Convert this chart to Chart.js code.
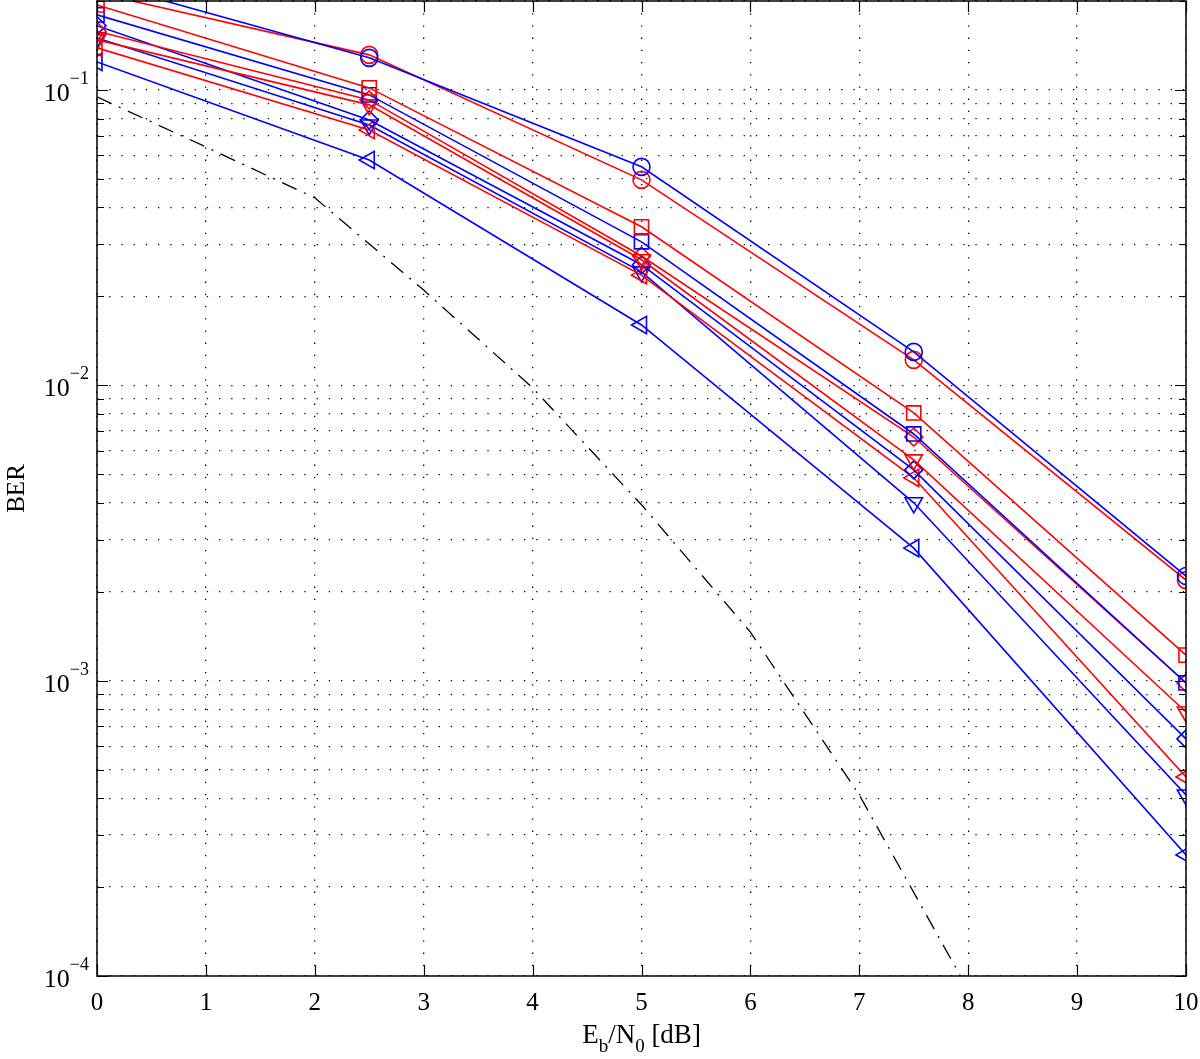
<!DOCTYPE html>
<html><head><meta charset="utf-8">
<script src="https://cdn.jsdelivr.net/npm/chart.js@4.4.1/dist/chart.umd.min.js"></script>
<style>html,body{margin:0;padding:0;background:#fff;}canvas{display:block;}</style>
</head><body>
<canvas id="c" width="1200" height="1059"></canvas>
<script>
// ---- data ----
const ebn0 = [0, 2.5, 5, 7.5, 10];
const berBlueCircle  = [0.232, 0.1284, 0.0549, 0.01297, 0.00226];
const berRedCircle   = [0.213, 0.1314, 0.0496, 0.01219, 0.00219];
const berRedSquare   = [0.194, 0.1016, 0.0344, 0.00806, 0.00122];
const berBlueSquare  = [0.1795, 0.0962, 0.0306, 0.00684, 0.000982];
const berRedDiamond  = [0.158, 0.0925, 0.0274, 0.00668, 0.000982];
const berRedDown     = [0.1477, 0.0890, 0.0266, 0.00559, 0.000783];
const berBlueDiamond = [0.165, 0.0791, 0.0256, 0.00517, 0.000635];
const berRedLeft     = [0.1388, 0.0732, 0.0236, 0.00486, 0.000472];
const berBlueDown    = [0.150, 0.0761, 0.0242, 0.00400, 0.000410];
const berBlueLeft    = [0.1244, 0.0579, 0.0160, 0.00281, 0.000257];
const ebn0Theory = [0, 1, 2, 3, 4, 5, 6, 7, 8];
const berTheory  = [0.0947, 0.0641, 0.0431, 0.0210, 0.0098, 0.00394, 0.00146, 0.00041, 0.0000897];

const xTickValues = [0,1,2,3,4,5,6,7,8,9,10];
const xTickLabels = ['0','1','2','3','4','5','6','7','8','9','10'];
const yDecades = [1e-4, 1e-3, 1e-2, 1e-1];
const yTickExponents = ['\u22124', '\u22123', '\u22122', '\u22121'];
const xTitle = [['E',''],['b','sub'],['/N',''],['0','sub'],[' [dB]','']];
const yTitle = 'BER';

// ---- helpers ----
const BLUE = 'rgb(0,0,255)', RED = 'rgb(255,0,0)';
const SERIF = '"Liberation Serif","Times New Roman",serif';
const yGridValues = [];
yDecades.forEach(d => { for (let m = 1; m <= 9; m++) { const v = m * d; if (v <= 0.2000001) yGridValues.push(v); } });
yGridValues.push(0.2);

function ds(x, y, color, style, radius, rotation) {
  return {
    data: x.map((v, i) => ({x: v, y: y[i]})),
    borderColor: color, borderWidth: 1.6,
    pointStyle: style, pointRadius: radius, pointRotation: rotation || 0,
    pointBorderColor: color, pointBackgroundColor: 'rgba(0,0,0,0)', pointBorderWidth: 1.6,
    fill: false, tension: 0
  };
}

const datasets = [
  ds(ebn0, berBlueCircle, BLUE, 'circle', 8.5),
  ds(ebn0, berRedCircle, RED, 'circle', 8.5),
  ds(ebn0, berRedSquare, RED, 'rect', 10),
  ds(ebn0, berBlueSquare, BLUE, 'rect', 10),
  ds(ebn0, berRedDiamond, RED, 'rectRot', 9),
  ds(ebn0, berRedDown, RED, 'triangle', 10, 180),
  ds(ebn0, berBlueDiamond, BLUE, 'rectRot', 9),
  ds(ebn0, berRedLeft, RED, 'triangle', 10, -90),
  ds(ebn0, berBlueDown, BLUE, 'triangle', 10, 180),
  ds(ebn0, berBlueLeft, BLUE, 'triangle', 10, -90),
  {
    data: ebn0Theory.map((v, i) => ({x: v, y: berTheory[i]})),
    borderColor: '#000', borderWidth: 1.3, borderDash: [16, 8, 2, 8],
    pointRadius: 0, fill: false, tension: 0
  }
];

const framePlugin = {
  id: 'frame',
  afterDatasetsDraw(chart) {
    const {ctx, chartArea: a, scales: {x, y}} = chart;
    ctx.save();
    ctx.strokeStyle = '#000';
    ctx.lineWidth = 1.5;
    ctx.setLineDash([]);
    ctx.strokeRect(a.left, a.top, a.right - a.left, a.bottom - a.top);
    ctx.lineWidth = 1.2;
    ctx.beginPath();
    xTickValues.forEach(v => {
      const px = Math.round(x.getPixelForValue(v)) + 0.5;
      ctx.moveTo(px, a.bottom); ctx.lineTo(px, a.bottom - 11);
      ctx.moveTo(px, a.top); ctx.lineTo(px, a.top + 11);
    });
    yGridValues.forEach(v => {
      const py = Math.round(y.getPixelForValue(v)) + 0.5;
      const major = yDecades.some(d => Math.abs(d - v) / d < 1e-6);
      const L = major ? 11 : 7;
      ctx.moveTo(a.left, py); ctx.lineTo(a.left + L, py);
      ctx.moveTo(a.right, py); ctx.lineTo(a.right - L, py);
    });
    ctx.stroke();

    // tick labels
    ctx.fillStyle = '#000';
    ctx.textBaseline = 'alphabetic';
    ctx.font = '25px ' + SERIF;
    ctx.textAlign = 'center';
    xTickValues.forEach((v, i) => {
      ctx.fillText(xTickLabels[i], x.getPixelForValue(v), a.bottom + 34);
    });
    ctx.textAlign = 'left';
    yDecades.forEach((v, i) => {
      const py = y.getPixelForValue(v);
      ctx.font = '18px ' + SERIF;
      const sup = yTickExponents[i];
      const supW = ctx.measureText(sup).width;
      const right = a.left - 8;
      ctx.fillText(sup, right - supW, py - 6);
      ctx.font = '26px ' + SERIF;
      const bw = ctx.measureText('10').width;
      ctx.fillText('10', right - supW - bw, py + 11);
    });

    // x title
    const parts = xTitle.map(([t, k]) => ({t, k}));
    let total = 0;
    parts.forEach(p => { ctx.font = (p.k ? '19px ' : '27px ') + SERIF; p.w = ctx.measureText(p.t).width; total += p.w; });
    let cx = (a.left + a.right) / 2 - total / 2;
    const base = 1043;
    parts.forEach(p => {
      ctx.font = (p.k ? '19px ' : '27px ') + SERIF;
      ctx.fillText(p.t, cx, p.k ? base + 9 : base);
      cx += p.w;
    });

    // y title
    ctx.save();
    ctx.translate(24, (a.top + a.bottom) / 2);
    ctx.rotate(-Math.PI / 2);
    ctx.textAlign = 'center';
    ctx.font = '25px ' + SERIF;
    ctx.fillText(yTitle, 0, 0);
    ctx.restore();
    ctx.restore();
  }
};

function zeroPad(s) { s.paddingTop = 0; s.paddingBottom = 0; s.paddingLeft = 0; s.paddingRight = 0; }

new Chart(document.getElementById('c').getContext('2d'), {
  type: 'line',
  data: {datasets},
  options: {
    responsive: false, animation: false, devicePixelRatio: 1,
    layout: {autoPadding: false, padding: {top: 1, right: 14, left: 0, bottom: 0}},
    plugins: {legend: {display: false}, tooltip: {enabled: false}},
    scales: {
      x: {
        type: 'linear', min: 0, max: 10,
        ticks: {display: false},
        grid: {color: '#000', lineWidth: 1.3, drawTicks: false},
        border: {display: false, dash: [1.3, 10.9]},
        afterBuildTicks(s) { s.ticks = xTickValues.map(v => ({value: v})); },
        afterFit(s) { s.height = 83; zeroPad(s); }
      },
      y: {
        type: 'logarithmic', min: 1e-4, max: 0.2,
        ticks: {display: false},
        grid: {color: '#000', lineWidth: 1.3, drawTicks: false},
        border: {display: false, dash: [1.3, 10.9]},
        afterBuildTicks(s) { s.ticks = yGridValues.map(v => ({value: v})); },
        afterFit(s) { s.width = 97; zeroPad(s); }
      }
    }
  },
  plugins: [framePlugin]
});
</script>
</body></html>
